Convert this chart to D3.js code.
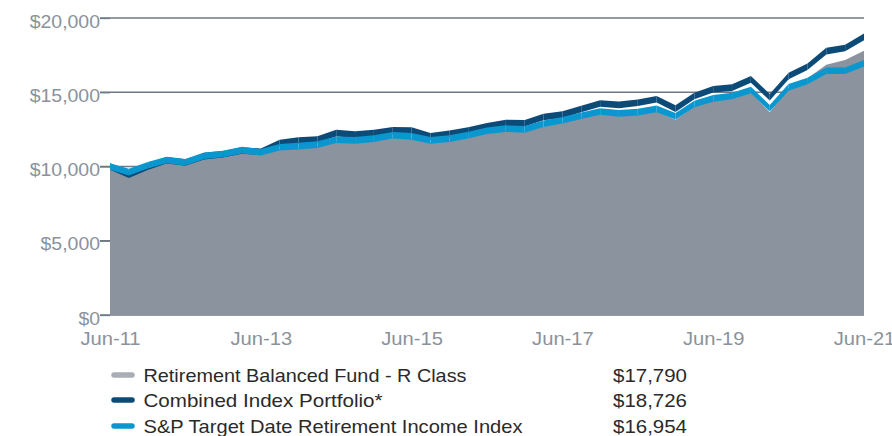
<!DOCTYPE html>
<html>
<head>
<meta charset="utf-8">
<script src="https://cdn.jsdelivr.net/npm/d3@7"></script>
<style>
  html, body { margin: 0; padding: 0; background: #fff; }
  svg { display: block; }
  text { font-family: "Liberation Sans", Arial, sans-serif; }
</style>
</head>
<body>
<svg id="chart" width="892" height="436"></svg>
<script>
// Quarter-end dates, Jun-11 through Jun-21
const quarters = [
  "Jun-11","Sep-11","Dec-11","Mar-12","Jun-12","Sep-12","Dec-12","Mar-13",
  "Jun-13","Sep-13","Dec-13","Mar-14","Jun-14","Sep-14","Dec-14","Mar-15",
  "Jun-15","Sep-15","Dec-15","Mar-16","Jun-16","Sep-16","Dec-16","Mar-17",
  "Jun-17","Sep-17","Dec-17","Mar-18","Jun-18","Sep-18","Dec-18","Mar-19",
  "Jun-19","Sep-19","Dec-19","Mar-20","Jun-20","Sep-20","Dec-20","Mar-21","Jun-21"
];

// Growth of $10,000
const fundValues = [
  10000, 9560, 10000, 10370, 10200, 10620, 10740, 10990,
  10850, 11180, 11230, 11330, 11650, 11600, 11720, 11940,
  11860, 11580, 11700, 11930, 12240, 12380, 12320, 12700,
  12940, 13250, 13520, 13400, 13480, 13700, 13150, 14040,
  14420, 14580, 15000, 13650, 15300, 15950, 16850, 17180, 17790
];
const combinedValues = [
  10000, 9450, 9980, 10420, 10270, 10700, 10820, 11080,
  10990, 11580, 11740, 11820, 12250, 12150, 12260, 12430,
  12420, 12040, 12200, 12420, 12710, 12930, 12910, 13330,
  13490, 13870, 14240, 14150, 14290, 14530, 13900, 14750,
  15200, 15310, 15870, 14660, 16090, 16720, 17770, 17980, 18726
];
const spValues = [
  10000, 9620, 10080, 10440, 10290, 10720, 10840, 11100,
  10960, 11300, 11370, 11470, 11800, 11760, 11880, 12100,
  12030, 11760, 11880, 12110, 12410, 12550, 12500, 12880,
  13110, 13420, 13700, 13580, 13660, 13880, 13380, 14210,
  14590, 14750, 15150, 13920, 15330, 15760, 16450, 16450, 16954
];

const xTickLabels = ["Jun-11","Jun-13","Jun-15","Jun-17","Jun-19","Jun-21"];
const yTicks = [0, 5000, 10000, 15000, 20000];

const legendNames = [
  "Retirement Balanced Fund - R Class",
  "Combined Index Portfolio*",
  "S&P Target Date Retirement Income Index"
];
const legendValues = ["$17,790", "$18,726", "$16,954"];

const colors = {
  fund: "#8b939e",
  fundSwatch: "#a9aeb6",
  combined: "#0c4a78",
  sp: "#0a97cf",
  grid: "#6f7985",
  axisText: "#8a929c",
  legendText: "#2a2a2a"
};

const svg = d3.select("#chart");

const x = d3.scalePoint().domain(quarters).range([110, 864]);
const y = d3.scaleLinear().domain([0, 20000]).range([315, 18]);

// Gridlines (behind the area)
svg.append("g")
  .selectAll("line")
  .data(yTicks)
  .join("line")
  .attr("x1", 100).attr("x2", 864)
  .attr("y1", d => y(d)).attr("y2", d => y(d))
  .attr("stroke", colors.grid)
  .attr("stroke-width", 1.3);

// Fund as a filled area
const area = d3.area()
  .x((d, i) => x(quarters[i]))
  .y0(y(0))
  .y1(d => y(d));
svg.append("path")
  .datum(fundValues)
  .attr("d", area)
  .attr("fill", colors.fund);

// Thick lines drawn as vertical-cut bands, one piece per quarter
const half = 3.3;
function drawBand(values, color) {
  const g = svg.append("g");
  const band = d3.area()
    .x(d => x(d.q))
    .y0(d => y(d.v) + half)
    .y1(d => y(d.v) - half);
  for (let i = 0; i < values.length - 1; i++) {
    const seg = [
      { q: quarters[i], v: values[i] },
      { q: quarters[i + 1], v: values[i + 1] }
    ];
    g.append("path").attr("d", band(seg)).attr("fill", color);
  }
}
drawBand(combinedValues, colors.combined);
drawBand(spValues, colors.sp);

// Y axis: labels hang just below their tick
const yAxis = d3.axisLeft(y)
  .tickValues(yTicks)
  .tickSize(10)
  .tickPadding(10)
  .tickFormat(d => "$" + d3.format(",")(d));
const gy = svg.append("g").attr("transform", "translate(110,0)").call(yAxis);
gy.select(".domain").remove();
gy.selectAll(".tick line").attr("stroke", colors.grid).attr("stroke-width", 1.3);
gy.selectAll(".tick text")
  .attr("fill", colors.axisText)
  .attr("dy", "0.5em")
  .attr("x", -10)
  .style("font-size", "18px")
  .each(function () {
    const w = this.getComputedTextLength();
    d3.select(this).attr("textLength", w * 1.08).attr("lengthAdjust", "spacingAndGlyphs");
  });

// X axis
const xAxis = d3.axisBottom(x)
  .tickValues(xTickLabels)
  .tickSize(0)
  .tickPadding(17);
const gx = svg.append("g").attr("transform", "translate(0,315)").call(xAxis);
gx.select(".domain").remove();
gx.selectAll(".tick text")
  .attr("fill", colors.axisText)
  .style("font-size", "18px")
  .each(function () {
    const w = this.getComputedTextLength();
    d3.select(this).attr("textLength", w * 1.12).attr("lengthAdjust", "spacingAndGlyphs");
  });

// Legend
const legendColors = [colors.fundSwatch, colors.combined, colors.sp];
const legendWidths = [323, 239, 379];
const rowY = [375, 400, 426];
const legend = svg.append("g");
legendNames.forEach((name, i) => {
  legend.append("line")
    .attr("x1", 114).attr("x2", 132)
    .attr("y1", rowY[i]).attr("y2", rowY[i])
    .attr("stroke", legendColors[i])
    .attr("stroke-width", 5.5)
    .attr("stroke-linecap", "round");
  legend.append("text")
    .attr("x", 143.5).attr("y", rowY[i])
    .attr("dy", "0.36em")
    .attr("fill", colors.legendText)
    .attr("textLength", legendWidths[i])
    .attr("lengthAdjust", "spacingAndGlyphs")
    .style("font-size", "18.5px")
    .text(name);
  legend.append("text")
    .attr("x", 613).attr("y", rowY[i])
    .attr("dy", "0.36em")
    .attr("fill", colors.legendText)
    .attr("textLength", 74)
    .attr("lengthAdjust", "spacingAndGlyphs")
    .style("font-size", "18.5px")
    .text(legendValues[i]);
});
</script>
</body>
</html>
